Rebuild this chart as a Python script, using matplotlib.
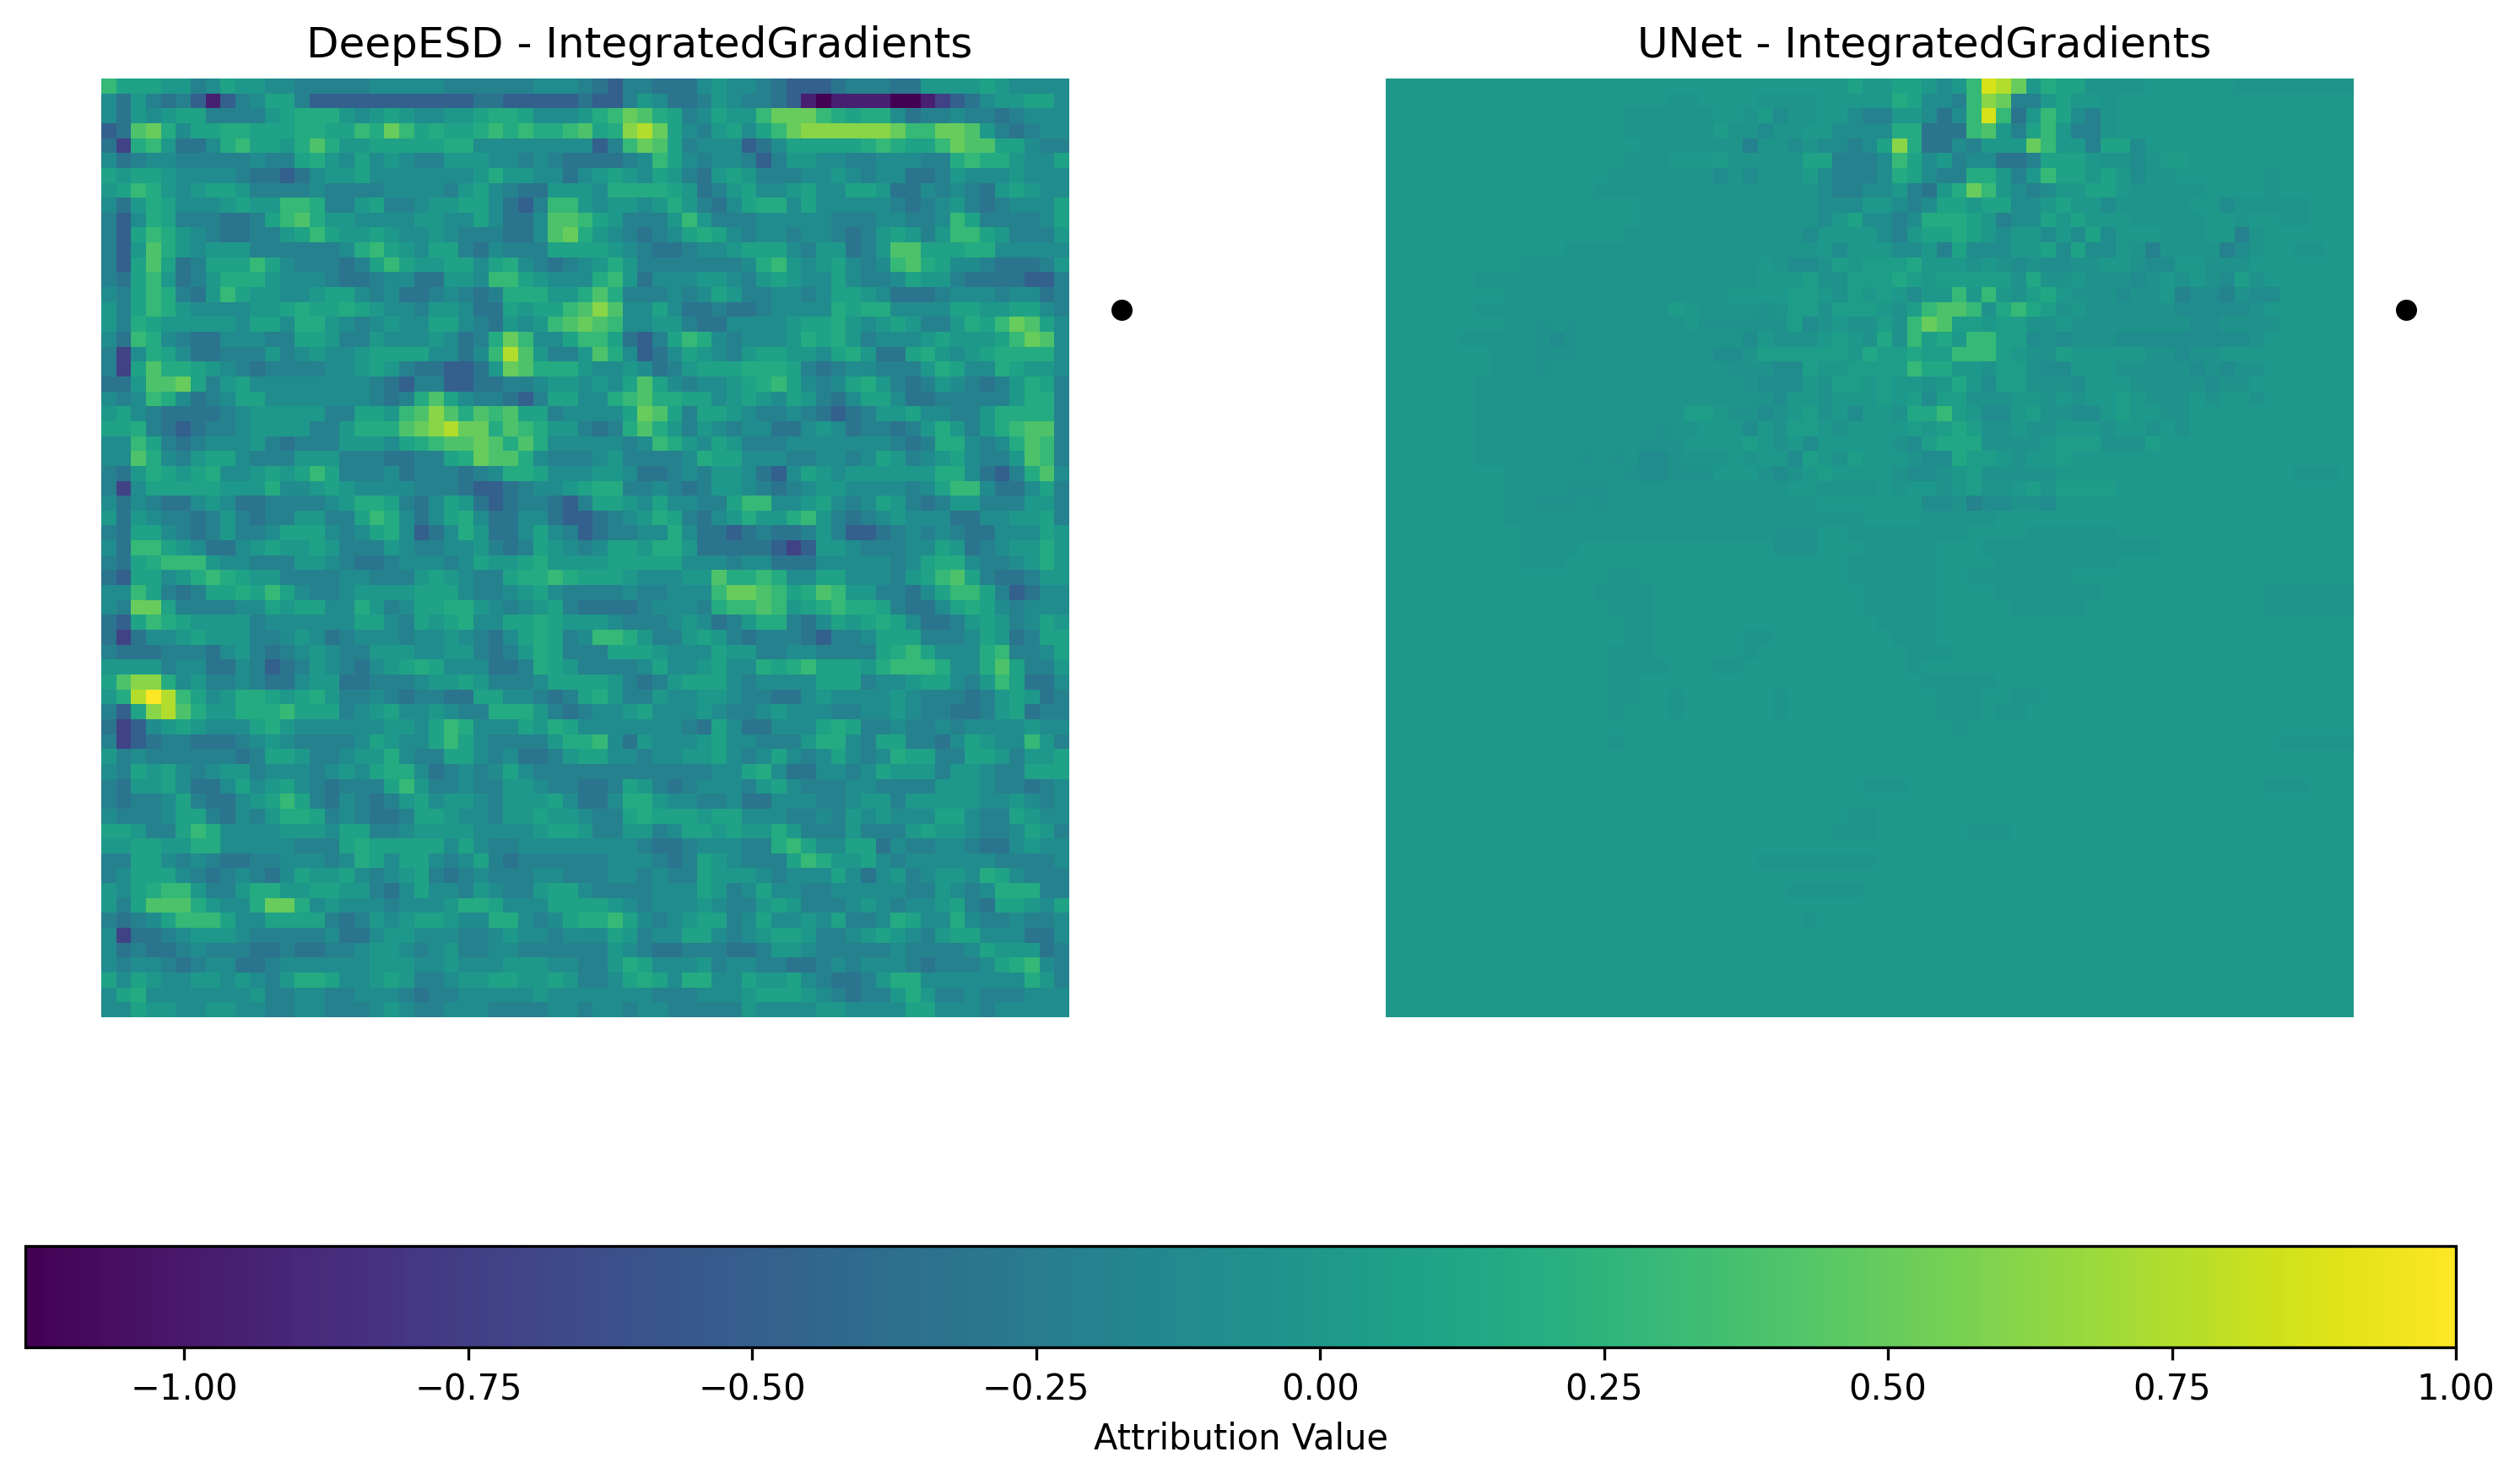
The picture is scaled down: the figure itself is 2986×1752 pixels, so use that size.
"""
Attribution maps of two downscaling models with a shared colorbar.
"""
import numpy as np
import matplotlib
matplotlib.use('Agg')
import matplotlib.pyplot as plt

# ---------- config ----------
W, H = 2986, 1752
TITLES = ['DeepESD - IntegratedGradients', 'UNet - IntegratedGradients']
VMIN, VMAX = -1.14, 1.0
CBAR_TICKS = [-1.0, -0.75, -0.5, -0.25, 0.0, 0.25, 0.5, 0.75, 1.0]
SITE_COL, SITE_ROW = 68, 15

# attribution value of each letter used in the rows below
LEVELS = {'a': -1.14, 'b': -0.95, 'c': -0.72, 'd': -0.48, 'e': -0.32, 'f': -0.2,
          'g': -0.1, 'G': -0.03, 'h': 0.0, 'H': 0.04, 'i': 0.09, 'j': 0.18, 'k': 0.29,
          'l': 0.4, 'm': 0.5, 'n': 0.62, 'o': 0.75, 'p': 0.87, 'q': 1.0}
# the lower UNet rows are much fainter, so the small letters mean less there
FAINT_LEVELS = {**LEVELS, 'e': -0.18, 'f': -0.1, 'g': -0.05, 'i': 0.06, 'j': 0.14}
FAINT_FROM_ROW = 12

DEEPESD_ROWS = [
    "kiiihhfgihhggfffffgggggffffffgggf" "edffeeeghggfedddefffeehhhhihgggg",
    "gehfefdbdfgiifdddddddddddeeddddde" "ddfhgeefhgffedbabbbbaabcdeghhiig",
    "gehghiiffffhijjjhghihgghhijjigggh" "jkmljifgihhkmmmkjijjgeffgffefggg",
    "delmjgiijjiiijjiikjmkijiijkjkjjkl" "ijnomigfhigikmnnnnnnmkkmmlhfefgg",
    "ecjkheegjkiihjljhhiiiiijjgggggggg" "dfkmlifgggdegiiiiijkjiikmlliigff",
    "gefggfffffgffijhgighgffhhhggfgfee" "eefgkigfggfdfhhggffgggffjkjjhggi",
    "ihiihggggfeedeghhiggggggghjhhggeg" "hihgihfehihfffgghgfggeefhggghggg",
    "hikjhghiihffffgffffggggfhigfeehhh" "gjjjjihefhigghiggiiheegfgfehihgg",
    "gehjiggghihhkkjffhiffghhiigedfkkh" "ghhghjhfegijjgigggggfefghfefgggi",
    "fdgjifffeefikljhhgggghhggigeegllk" "ihfffhkhfffgggggfffggffgkiffffgi",
    "fdikjhgfeeffhikihhihgghgfffeeglmj" "hgfefgijigfggfggfefhihfhkkihfffh",
    "fdhljhghhhffffffgjkihgiifegfffiii" "ihgfeefgghiiigfhhefhlliiijjggggg",
    "fdiliefiiikigfffefikihhiigijgfefg" "hjhfffffffgjkhghigfgkljiggfeeefh",
    "feikhefhjjjhgggfeefggeehhgkkihggg" "jkheggghhgfhihggigffgihhfeeeeddf",
    "gfikjfehkihhgghiigfgeefgfefjjjhhj" "ljfffgfgihffggfgiihgeeefgggfggef",
    "hfikjhgggghhijiijihggfhhgeeihiikl" "nlggigeefeefggggjijjggggiihhiigf",
    "hfjihhhhhgiigjjhgfghggiigfehghklm" "lkgghhfeegggghiijhghihffhjikmlig",
    "gekjgfeegggffiihffhggghgefjmkggik" "kiedfikjgfggghjijhfggghihhhikmlg",
    "fcgjigeefffhfghgghiiiiggegkolhffh" "ljgdegihgfhiihhgijheeijhghijjjjg",
    "fciljjihgfeffffgghihfeeddehmljjjh" "gghgefhiiijjjifefggfffhjiggjihhg",
    "eehllmifhiggggggggfedffddeeffghhg" "hgiligfgghijkigfgijhfefhgfefhjif",
    "gfgkjgefgiigggggggfefjligffedfiig" "gjkljjiighihgihfegiigeefffffhjjf",
    "higfeeeefghhhhhffiihklnljlkliifgg" "ggimlifiihgffgfedefhhiggffhjjjjf",
    "iijfedeffghhhhffhjjjlmnommjlkjhhf" "efjljhfhgfggeeghgeffefhjhfhjkllf",
    "ggkifefggghfefffhhhgijkllmljljggg" "ggfgkjhgihfffgggggggfefjjgfgjlkf",
    "ggljgfhiigfffhhhfffeeffijmlljgfff" "ghffffgjiigggffggfgihfghigffhlkf",
    "fehjihijgghihikifffgefffefgjjiggg" "hhgeefgfhhgedgihghhhhhhjjgedfjlg",
    "fcgiiiiihhhjgghihggggfffeddefgghi" "jjffgfefhhgfefghhggggfgikkgeegif",
    "gegfeeghgeeffffghjjifegihedeffedf" "iihgiggffikkgghigfgihfefhhfffhhf",
    "hehgffefhfeffhhffikjgegijgeeggedd" "efghjifeghjhhjkhfefghgggeegghhif",
    "feiigfefhffgiiigfgijgdegjheegigfd" "effggjgeedefeefhfddefgfgfeegggih",
    "gekkihgeeghihhihfffhgffgghfefihgf" "giihjjheeeeedcdhhgfffggihefghhjh",
    "feijkkkhggfffhhgfeefgggfgihhijhhh" "hiiiiigggfggeeegggggfgijjgffghjh",
    "ediighjkjihhffffggfffhihgffijjkji" "iihggghhljjkjggiigggfhiklifeefhh",
    "ggkifefiijikigffghhhhiiigffghigff" "ffgffgggkmmlkijlkhhffegikkifdegg",
    "gfmmiffffggihiiggjhfgiijjhgfghife" "eeefgggfjkklkhijkjjifeegijigfggg",
    "edikjihhhhfggggggiigfihijggiijihh" "hgfffghgefhjjfegihijigeefhihfgih",
    "ecegghihhhffghgefgggfgghgfegijifg" "kkjhffhihfefffedffgiiifffgihefii",
    "feeefffeghfefghgffhhhgghhfefhjiff" "fiiihgggihhffggffffijkigggjkffgi",
    "hhhhfggeegfdefhgfeghijigggeefjihf" "fffgigghiggjijkiiihjkkkjggjliffh",
    "ilnnjghffgfeeghheefffghhihfffgiii" "ihfefhiiigfggggiiifgghiigfhkieeg",
    "hjoqokighjjihijhffgfeffeeiiggfefi" "jhffhgghhgffeeghgggghgfffefhihef",
    "fdinoljhhjjjkiiifghigghgffjjjhfef" "gghiggghgffghgggffgghgffeefhieff",
    "ecdghihgggijhgggggghhgikjgggihjig" "ggggggfeigeegggijiffgffgfgggghgg",
    "fcdeffeeefghgffffgihggikigffffhjj" "kgehggghiggfffhjjgfiiffegihggkhf",
    "hfgffffffefiihffghhjgffiigfgeefhi" "iggfgghhigfgigfgigfgjiiffiihfhhi",
    "gfihigfghhfgggfghgijjgefgfgigffff" "ffffffffggijgeeggfgihhhfhhgffiii",
    "fehhigeegighigfefffikhffgffhhgffe" "efihfefgggfhigfffggffffhhhgffefg",
    "feffgifeeghikifegfefhighhgfhhhige" "egjjhggffgeegggffghhfhhhhhgghgfg",
    "gfffgiifegfhjjifgfeefiihggfhhihhg" "ffijiiihiigggffgfhghgggiigffihgg",
    "iihffikjgggghhhgiiffghhhhgggghiih" "ffhhfgiihihhjhfffhfffhihhgffgihf",
    "hhiihhjjgggggfffijiiiiigigffggggg" "gggfeefgggffjkiggiiegffggfeeghgg",
    "ffiigfgfeeffgggfgjigiigfgifefffff" "fgggfefihgfffikjhhigfggggggffffg",
    "fgiiigfefgfegihhigfghifefgfffggff" "fggfgffihhhgfgggigeghfghhgjigfff",
    "hgijkkhffhjjhhiihhfegiggfhgffhiig" "ffffgggihfgiggffgggggffhgfgjjjff",
    "hfillljhggjmmjghgggfggghjjigggiii" "ihgfggghgffhihfffghgfgghifeiihgi",
    "fefgikkkiggiiiifefhghiihggjjgfgij" "jkigfghiifgigghgiffgjiggjgffgffg",
    "gceefghhhgfffffgeeghhgggffghggfgg" "gihfggiigfghiihffghihgfhiigggeeg",
    "gefeefgfffeefeeffghhgfghffggfffff" "fhgfeefffeefhhgfffffgffffgihhhef",
    "gfggfefggeefgggggghhhgghggghhhggf" "fhjiggghfggffeefgfgggfefffgijkgf",
    "igihgghhghgfhjjigghihffghhiihhihf" "fgijigjjggihhigfeefhjjgggggggjhf",
    "gijggggggghffggffgggfeffggggghggg" "ggggfffggghiiihgfeffhjhffgfffggg",
    "ggihhgghhggffggfffghgffgggffffggf" "ggfggfffffhgggghhggggiigggfggggg",
]

UNET_ROWS = [
    'h'*29 + "hhihhiihghkpomhjiiGG" + "GGhhhhhhGGGGGGGG",
    'h'*19 + "GGhhhhGGGG" + "hhhhhjiggfknmffhihhG" + 'h'*16,
    'h'*16 + "GGGGGGhhGHgGG" + "hhgffhhgegkpkehkigfG" + 'h'*16,
    'h'*16 + "GGGGGGHGGgGGh" + "hggggjjeeeklhfikhffG" + 'h'*16,
    'h'*17 + "GGGGGGGfGGgG" + "ggfginjeegfhhhmkhhfi" + "ighhhhhhhhhhhhhh",
    'h'*16 + "GGGhhhHGGGGGi" + "ifffgkighfggeefiiihG" + "GgGHHhhhhhhhhhhh",
    'h'*15 + "GGGGGGGgGgGGGH" + "gfffgjigffjjhfhkiihi" + "hgGGhhhhhhGhhhhh",
    'h'*14 + "GGGGGGGGGGGGGGG" + "gffgghfehjmkhgfghhii" + "hGGGGGhhhhGhhhhh",
    'h'*17 + "GGGGGGGGGGGG" + "ggghhgfgiihiigghihhg" + "GGGGGhhgGGGGGhhh",
    'h'*17 + "GGGGGGGGGGGG" + "ghiggfgjjjihfggihihh" + "hGGGGGhhGhhGGhhh",
    'h'*16 + "GGGGGGGGGGGGg" + "hhhhgfhiijihghhghgig" + "hhhGGGhhfGhhhhhh",
    'h'*12 + "GGGGGGGGGGGGGGGGG" + "hghhhgghfiggghhigigg" + "hGfGGGGfgGhhGGhh",
    'h'*9 + 'G'*16 + "hGff" + "gihiiijhhhghgfgffggh" + "hgffhhggghhhhhhh",
    'h'*6 + 'G'*19 + "hhhi" + "ggiiijihiiiiigjgghgg" + "gfghghgfighhhhhh",
    'h'*8 + 'G'*12 + "GGGhhhhii" + "hgihihfhhkhkhgijhggg" + "fggheffegffhhhhh",
    'h'*6 + 'G'*13 + "HhGGGGgGii" + "giiihgikllkgjkjighgg" + "ggggfffffghhhhhh",
    'h'*8 + "GGgGgG" + "GGGGGG" + "hggggggif" + "ghggigkmliihiigghggg" + "gggggffgggghhhhh",
    'h'*5 + "GGGGG" + "gfg" + 'G'*11 + "fhggg" + "hihgjgkijhkkiifgfggg" + "fffffffffghhhhhh",
    'h'*7 + "GGG" + "ggg" + 'G'*9 + "ffGiiii" + "iihjiijiikkkihggihhh" + "hhggfgghhhhhhhhh",
    'h'*7 + "GGG" + "g" + 'G'*12 + "gggffi" + "hhiiiikjjhhgiigffhhh" + "gggggfgfgghhhhhh",
    'h'*6 + 'G'*18 + "gfffh" + "giihihhghjhfiigggfhh" + "hgggggfgghhhhhhh",
    'h'*6 + 'G'*19 + "gfhh" + "ghhhihifiiggghhghghh" + "ihggghghhghhhhhh",
    'h'*6 + 'G'*14 + "iihggfghi" + "ghfhhgjjkihffhiggffh" + "ihhgghhhhhhhhhhh",
    'h'*6 + 'G'*11 + "GgGGhhhfhgii" + "hghhhhihijigghgghhhg" + "hhghghhhhhhhhhhh",
    'h'*6 + 'G'*11 + "ggghhhhihghf" + "hhhhhgfijjjgggghiiig" + "ggihhhhhhhhhhhhh",
    'h'*6 + 'G'*7 + "gGgG" + "ff" + "gGGGhGhhfi" + "hgihhhgffjiihghhihhh" + 'h'*16,
    'h'*8 + 'G'*8 + "gffggghhhgfgh" + "ihhhhgffghiggggghhhh" + "hhhhhhhhhhhhGGGh",
    'h'*8 + "GGGG" + "ggg" + 'G'*10 + "GGhh" + "GGGGhGhhghiGGhiGiiii" + 'h'*16,
    'h'*8 + "GG" + "ggg" + "Gg" + 'G'*14 + "hhhhhhhffgeffggfhhhh" + 'h'*16,
    'h'*8 + 'G'*24 + 'h'*4 + 'G'*5 + 'h'*24,
    'h'*9 + 'G'*17 + 'g'*3 + 'h'*2 + 'G'*8 + 'h'*4 + 'G'*6 + 'h'*16,
    'h'*9 + 'G'*4 + 'h'*13 + 'g'*3 + 'h'*3 + 'G'*5 + 'h'*3 + 'G'*12 + 'h'*13,
    'h'*9 + 'G'*3 + 'h'*19 + 'G'*6 + 'h'*4 + 'G'*8 + 'h'*16,
    'h'*15 + 'G'*2 + 'h'*14 + 'G'*6 + 'h'*2 + 'G'*7 + 'h'*19,
    'h'*14 + 'G'*4 + 'h'*14 + 'G'*5 + 'h'*4 + 'G'*7 + 'h'*11 + 'G'*6,
    'h'*15 + 'G'*3 + 'h'*14 + 'G'*5 + 'h'*5 + 'G'*5 + 'h'*12 + 'G'*6,
    'h'*16 + 'G'*2 + 'h'*15 + 'G'*4 + 'h'*28,
    'h'*16 + 'G'*2 + 'h'*6 + 'G'*2 + 'h'*8 + 'G'*3 + 'h'*28,
    'h'*15 + 'G'*3 + 'h'*6 + 'G' + 'h'*10 + 'G'*3 + 'h'*27,
    'h'*15 + 'G'*4 + 'h'*3 + 'G'*2 + 'h'*11 + 'G' + 'h'*29,
    'h'*15 + 'G'*2 + 'h'*19 + 'G'*5 + 'h'*24,
    'h'*15 + 'G'*2 + 'h'*2 + 'G' + 'h'*6 + 'G' + 'h'*10 + 'G'*3 + 'h'*2 + 'G'*2 + 'h'*21,
    'h'*15 + 'G' + 'h'*3 + 'G' + 'h'*6 + 'G' + 'h'*10 + 'G'*3 + 'h' + 'G'*2 + 'h'*22,
    'h'*38 + 'G' + 'h'*26,
    'h'*15 + 'G' + 'h'*44 + 'G'*5,
    'h'*65,
    'h'*65,
    'h'*32 + 'G'*3 + 'h'*24 + 'G'*3 + 'h'*3,
    'h'*65,
    'h'*31 + 'G'*2 + 'h'*32,
    'h'*30 + 'G'*3 + 'h'*6 + 'G'*3 + 'h'*23,
    'h'*65,
    'h'*25 + 'G'*8 + 'h'*32,
    'h'*65,
    'h'*27 + 'G'*5 + 'h'*33,
    'h'*65,
    'h'*28 + 'G' + 'h'*36,
    'h'*65,
    'h'*65,
    'h'*65,
    'h'*65,
    'h'*65,
    'h'*65,
]


def decode(rows, faint_from=None):
    grid = []
    for i, r in enumerate(rows):
        levels = FAINT_LEVELS if faint_from is not None and i >= faint_from else LEVELS
        grid.append([levels[c] for c in r.ljust(65, 'h')[:65]])
    return np.array(grid)


def px_axes(fig, x0, y0, x1, y1):
    # rectangle given in pixels from the top left corner
    return fig.add_axes([x0 / W, 1 - y1 / H, (x1 - x0) / W, (y1 - y0) / H])


fig = plt.figure(figsize=(W / 300, H / 300), dpi=300)

panels = [(120, 1267, decode(DEEPESD_ROWS)), (1642, 2789, decode(UNET_ROWS, FAINT_FROM_ROW))]
for (x0, x1, grid), title in zip(panels, TITLES):
    ax = px_axes(fig, x0, 93, x1, 1205)
    im = ax.imshow(grid, cmap='viridis', vmin=VMIN, vmax=VMAX,
                   interpolation='nearest', aspect='auto')
    ax.plot(SITE_COL, SITE_ROW, 'o', color='black', markersize=5, clip_on=False)
    ax.set_xlim(-0.5, 64.5)
    ax.set_ylim(62.5, -0.5)
    # the original axes also held the dot, so the title sits right of the map centre
    ax.set_title(title, fontsize=12, x=0.556)
    ax.axis('off')

cax = px_axes(fig, 30, 1476, 2910, 1596)
cbar = fig.colorbar(im, cax=cax, orientation='horizontal')
cbar.set_ticks(CBAR_TICKS)
cbar.ax.tick_params(labelsize=10)
cbar.set_label('Attribution Value', fontsize=10)

fig.savefig('out.png', dpi=300)
